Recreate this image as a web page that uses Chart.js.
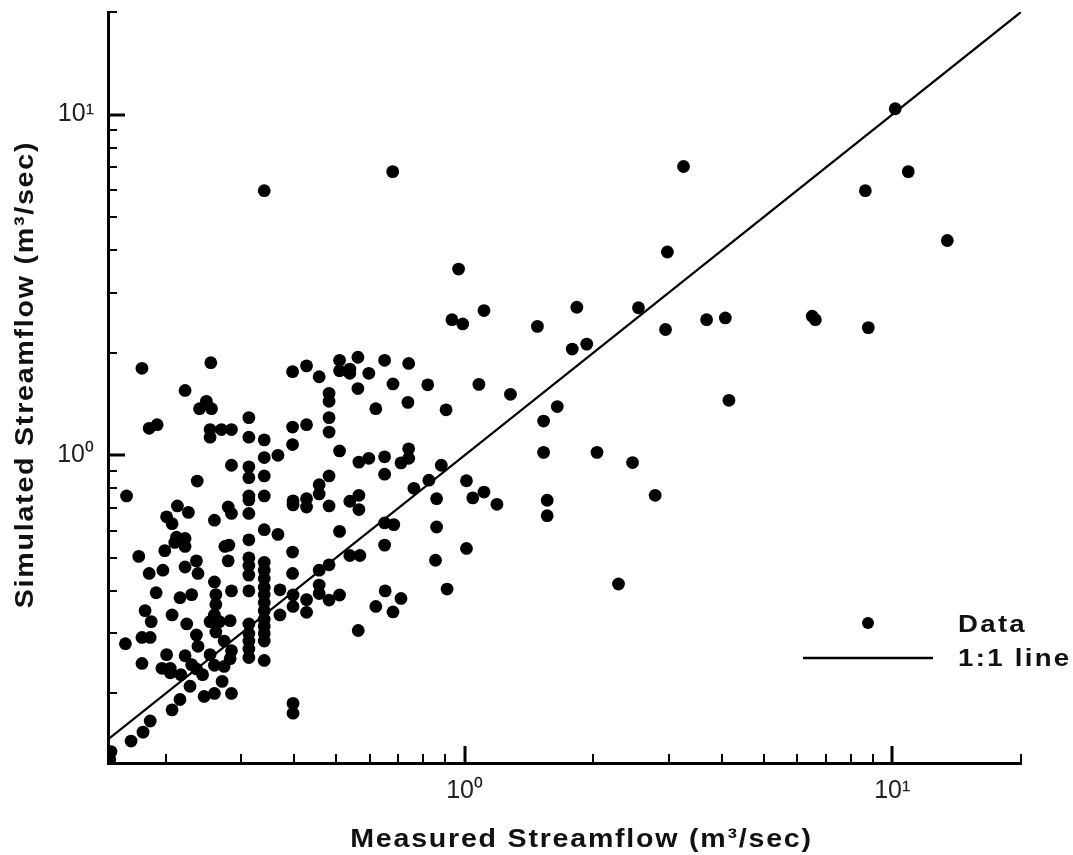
<!DOCTYPE html>
<html>
<head>
<meta charset="utf-8">
<script src="https://cdn.jsdelivr.net/npm/chart.js@4"></script>
<style>
  html, body { margin: 0; padding: 0; background: #fff; }
</style>
</head>
<body>
<canvas id="chart" width="1073" height="855"></canvas>
<script>
// measured vs simulated streamflow (m3/sec)
const measured = [
  0.176, 0.255, 0.222, 0.249, 0.240, 0.256, 0.183, 0.191, 0.254, 0.254, 0.270, 0.285,
  0.313, 0.313, 0.313, 0.313, 0.313, 0.313, 0.313, 0.313, 0.313, 0.313, 0.313, 0.313, 0.313, 0.313, 0.313, 0.313, 0.313,
  0.340, 0.340, 0.340, 0.340, 0.340, 0.340, 0.340, 0.340, 0.340, 0.340, 0.340, 0.340, 0.340, 0.340, 0.340, 0.340, 0.340,
  0.285, 0.237, 0.162, 0.213, 0.226, 0.201, 0.207, 0.280, 0.285, 0.260, 0.212, 0.222, 0.210, 0.222, 0.275, 0.281,
  0.173, 0.199, 0.183, 0.197, 0.222, 0.236, 0.238, 0.280, 0.260, 0.190, 0.216, 0.230, 0.285, 0.179, 0.185, 0.207,
  0.224, 0.262, 0.262, 0.260, 0.254, 0.267, 0.283, 0.262, 0.274, 0.285, 0.283, 0.274, 0.161, 0.176, 0.184, 0.236,
  0.238, 0.176, 0.201, 0.196, 0.205, 0.205, 0.222, 0.230, 0.236, 0.217, 0.244, 0.254, 0.260, 0.228, 0.216, 0.246,
  0.260, 0.285, 0.271, 0.207, 0.184, 0.177, 0.166, 0.149, 0.148,
  0.51, 0.563, 0.65, 0.74, 0.396, 0.427, 0.457, 0.51, 0.539, 0.539, 0.597, 0.68, 0.82, 0.563, 0.482, 0.482,
  0.737, 0.62, 0.905, 0.482, 0.396, 0.427, 0.482, 0.396, 0.366, 0.51, 0.566, 0.597, 0.65, 0.65, 0.74, 0.74,
  0.71, 0.882, 0.825, 0.761, 1.01, 0.482, 0.457, 0.457, 0.397, 0.397, 0.427, 0.427, 0.482, 0.539, 0.566, 0.566,
  0.86, 0.65, 0.683, 0.366, 0.51, 0.86, 0.65, 0.396, 0.539, 0.569, 1.01, 0.855, 0.396, 0.457, 0.482, 0.37,
  0.397, 0.457, 0.457, 0.427, 0.427, 0.482, 0.51, 0.397, 0.37, 0.652, 0.71, 0.62, 0.68, 0.91, 0.564, 0.397, 0.397,
  2.98, 0.968, 0.934, 0.99, 1.11, 1.48, 1.83, 2.55, 2.95, 3.68, 4.07, 1.785, 1.93, 1.08, 1.28, 1.647,
  1.53, 4.15, 1.53, 2.04, 2.47, 1.045, 1.11, 1.19, 1.56, 1.56, 2.79, 2.29, 0.34, 0.679, 3.25, 10.16,
  8.65, 10.9, 13.45, 6.5, 6.61, 8.79
];
const simulated = [
  1.80, 1.87, 1.55, 1.44, 1.37, 1.37, 1.20, 1.23, 1.19, 1.13, 1.19, 1.19,
  1.29, 1.13, 0.925, 0.86, 0.76, 0.74, 0.675, 0.565, 0.50, 0.475, 0.445, 0.40, 0.32, 0.30, 0.285, 0.27, 0.255,
  1.11, 0.985, 0.87, 0.76, 0.605, 0.485, 0.46, 0.435, 0.41, 0.39, 0.37, 0.35, 0.33, 0.315, 0.30, 0.285, 0.25,
  0.935, 0.84, 0.76, 0.71, 0.68, 0.66, 0.63, 0.705, 0.675, 0.645, 0.575, 0.57, 0.555, 0.54, 0.54, 0.545,
  0.505, 0.525, 0.45, 0.46, 0.47, 0.49, 0.45, 0.49, 0.425, 0.395, 0.382, 0.39, 0.40, 0.35, 0.325, 0.34,
  0.32, 0.39, 0.365, 0.34, 0.325, 0.325, 0.327, 0.303, 0.285, 0.267, 0.253, 0.24, 0.28, 0.292, 0.292, 0.297,
  0.275, 0.245, 0.26, 0.237, 0.237, 0.23, 0.258, 0.243, 0.236, 0.227, 0.227, 0.26, 0.242, 0.21, 0.192, 0.196,
  0.20, 0.20, 0.217, 0.179, 0.166, 0.154, 0.145, 0.135, 0.128,
  1.90, 1.94, 1.90, 1.86, 1.76, 1.83, 1.70, 1.77, 1.79, 1.74, 1.74, 1.62, 1.61, 1.57, 1.52, 1.44,
  1.43, 1.37, 1.36, 1.29, 1.21, 1.23, 1.17, 1.075, 1.0, 1.03, 0.955, 0.98, 0.99, 0.88, 1.045, 0.98,
  0.95, 0.935, 0.845, 0.80, 0.842, 0.87, 0.82, 0.77, 0.735, 0.715, 0.746, 0.705, 0.71, 0.733, 0.763, 0.693,
  0.746, 0.633, 0.626, 0.586, 0.598, 0.616, 0.545, 0.52, 0.508, 0.508, 0.533, 0.492, 0.45, 0.46, 0.477, 0.403,
  0.389, 0.416, 0.393, 0.377, 0.346, 0.376, 0.389, 0.36, 0.34, 0.40, 0.38, 0.36, 0.347, 0.405, 0.306, 0.187, 0.175,
  3.95, 3.52, 2.50, 2.43, 2.66, 2.39, 2.72, 2.71, 2.34, 2.50, 2.53, 2.05, 2.12, 1.615, 1.51, 1.39,
  1.26, 1.45, 1.02, 1.02, 0.952, 0.75, 0.78, 0.718, 0.738, 0.665, 0.763, 0.419, 5.98, 6.8, 7.04, 10.4,
  5.98, 6.8, 4.27, 2.56, 2.50, 2.37
];

const xRange = [0.1466, 20];
const yRange = [0.125, 20];
const oneToOne = [0.1466, 20];
const xTickValues = [0.2, 0.3, 0.4, 0.5, 0.6, 0.7, 0.8, 0.9, 1, 2, 3, 4, 5, 6, 7, 8, 9, 10, 20];
const yTickValues = [0.2, 0.3, 0.4, 0.5, 0.6, 0.7, 0.8, 0.9, 1, 2, 3, 4, 5, 6, 7, 8, 9, 10, 20];
const decadeValues = [1, 10];
const decadeLabels = ['10⁰', '10¹'];
const xTitle = 'Measured Streamflow (m³/sec)';
const yTitle = 'Simulated Streamflow (m³/sec)';
const legendLabels = ['Data', '1:1 line'];

const FONT = '"Liberation Sans", Arial, Helvetica, sans-serif';

function tickLabel(v) {
  const i = decadeValues.findIndex(d => Math.abs(d - v) < 1e-9);
  return i < 0 ? null : decadeLabels[i];
}

// bold text in the original is set wide and loose
function wideText(ctx, text, x, y, stretch, spacing, angle) {
  ctx.save();
  ctx.translate(x, y);
  if (angle) ctx.rotate(angle);
  ctx.scale(stretch, 1);
  ctx.letterSpacing = spacing + 'px';
  ctx.fillText(text, 0, 0);
  ctx.restore();
}

// ticks point into the plot, titles and the legend are drawn here
const decorations = {
  id: 'decorations',
  afterDraw(chart) {
    const { ctx, chartArea: a, scales: { x, y } } = chart;
    ctx.save();
    ctx.strokeStyle = '#000';
    ctx.fillStyle = '#111';

    xTickValues.forEach(v => {
      const major = tickLabel(v) !== null;
      const px = Math.round(x.getPixelForValue(v));
      ctx.lineWidth = major ? 3 : 2;
      ctx.beginPath();
      ctx.moveTo(px, a.bottom);
      ctx.lineTo(px, a.bottom - (major ? 17 : 9));
      ctx.stroke();
    });
    yTickValues.forEach(v => {
      const major = tickLabel(v) !== null;
      const py = Math.round(y.getPixelForValue(v));
      ctx.lineWidth = major ? 3 : 2;
      ctx.beginPath();
      ctx.moveTo(a.left, py);
      ctx.lineTo(a.left + (major ? 17 : 9), py);
      ctx.stroke();
    });

    // axis titles
    ctx.font = 'bold 26px ' + FONT;
    ctx.textAlign = 'center';
    ctx.textBaseline = 'alphabetic';
    wideText(ctx, xTitle, (a.left + a.right) / 2 + 17, 847, 1.1, 1.6);
    wideText(ctx, yTitle, 33, (a.top + a.bottom) / 2 - 13, 1.1, 1.6, -Math.PI / 2);

    // legend
    ctx.fillStyle = '#000';
    ctx.beginPath();
    ctx.arc(a.right - 153, a.bottom - 140, 6, 0, Math.PI * 2);
    ctx.fill();
    ctx.lineWidth = 2.5;
    ctx.beginPath();
    ctx.moveTo(a.right - 218, a.bottom - 105);
    ctx.lineTo(a.right - 88, a.bottom - 105);
    ctx.stroke();
    ctx.fillStyle = '#111';
    ctx.font = 'bold 24px ' + FONT;
    ctx.textAlign = 'left';
    wideText(ctx, legendLabels[0], a.right - 63, a.bottom - 131, 1.15, 2);
    wideText(ctx, legendLabels[1], a.right - 63, a.bottom - 97, 1.15, 2);
    ctx.restore();
  }
};

new Chart(document.getElementById('chart'), {
  type: 'scatter',
  data: {
    datasets: [
      {
        label: legendLabels[0],
        data: measured.map((m, i) => ({ x: m, y: simulated[i] })),
        backgroundColor: '#000',
        borderWidth: 0,
        pointRadius: 6.4,
        pointHoverRadius: 6.4,
      },
      {
        type: 'line',
        label: legendLabels[1],
        data: oneToOne.map(v => ({ x: v, y: v })),
        borderColor: '#000',
        borderWidth: 2.2,
        pointRadius: 0,
        fill: false,
      },
    ],
  },
  options: {
    responsive: false,
    devicePixelRatio: 1,
    animation: false,
    layout: { padding: { left: 0, top: 12, right: 52, bottom: 0 } },
    plugins: { legend: { display: false }, tooltip: { enabled: false } },
    scales: {
      x: {
        type: 'logarithmic',
        position: 'bottom',
        min: xRange[0],
        max: xRange[1],
        afterBuildTicks: s => { s.ticks = xTickValues.map(v => ({ value: v })); },
        afterFit: s => { s.height = 92; s.paddingLeft = 0; s.paddingRight = 0; },
        grid: { display: false, drawTicks: false },
        border: { display: true, color: '#000', width: 3 },
        ticks: {
          autoSkip: false,
          maxRotation: 0,
          padding: 13,
          color: '#222',
          font: { family: FONT, size: 25 },
          callback: v => tickLabel(v),
        },
      },
      y: {
        type: 'logarithmic',
        position: 'left',
        min: yRange[0],
        max: yRange[1],
        afterBuildTicks: s => { s.ticks = yTickValues.map(v => ({ value: v })); },
        afterFit: s => { s.width = 108; s.paddingTop = 0; s.paddingBottom = 0; },
        grid: { display: false, drawTicks: false },
        border: { display: true, color: '#000', width: 3 },
        ticks: {
          autoSkip: false,
          padding: 14,
          color: '#222',
          font: { family: FONT, size: 25 },
          callback: v => tickLabel(v),
        },
      },
    },
  },
  plugins: [decorations],
});
</script>
</body>
</html>
